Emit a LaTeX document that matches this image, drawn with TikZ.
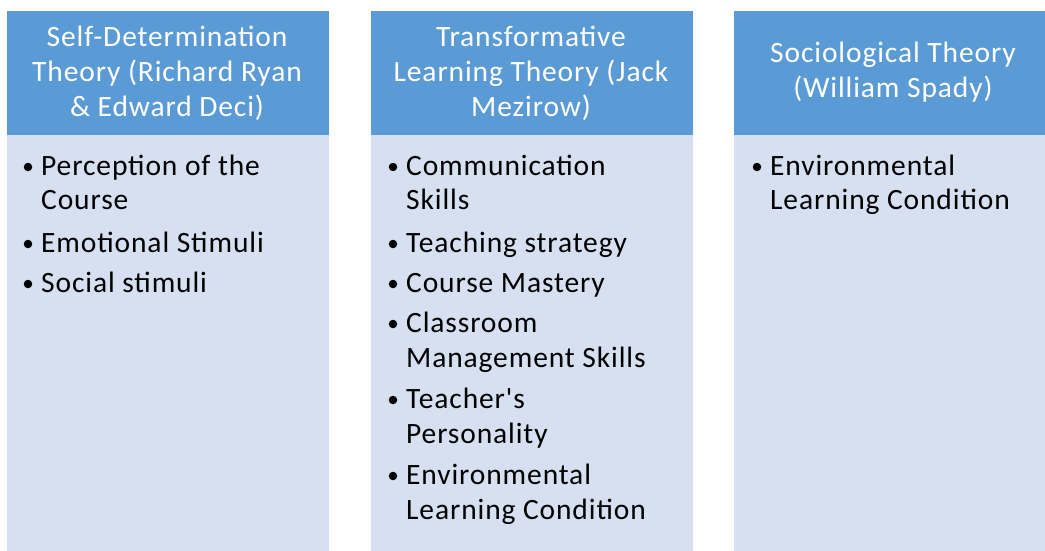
\documentclass[tikz,border=0pt]{standalone}
\usepackage{fontspec}
\setmainfont{Carlito}[LetterSpace=3]
\newfontfamily\nolig{Carlito}[LetterSpace=3]
\definecolor{hdrblue}{HTML}{5B9BD5}
\definecolor{bodyblue}{HTML}{D6E0F0}
\newcommand{\dfont}{\fontsize{29.5}{35}\selectfont}
\begin{document}
\begin{tikzpicture}[x=1pt,y=-1pt,
  hdrbox/.style={fill=hdrblue, draw=none, inner sep=0, anchor=north west, minimum height=124pt},
  bodybox/.style={fill=bodyblue, draw=none, inner sep=0, anchor=north west, minimum height=416pt},
  htext/.style={anchor=base, inner sep=0, text=white, font=\dfont},
  itemtext/.style={anchor=base west, inner sep=0, font=\dfont, text=black},
  bulletdot/.style={circle, fill=black, inner sep=0, minimum size=8.5pt}]
\useasboundingbox (0,0) rectangle (1045,551);
% column boxes
\node[hdrbox, minimum width=322pt] (h1) at (7,11) {};
\node[bodybox, minimum width=322pt] (b1) at (7,135) {};
\node[hdrbox, minimum width=322pt] (h2) at (371,11) {};
\node[bodybox, minimum width=322pt] (b2) at (371,135) {};
\node[hdrbox, minimum width=311pt] (h3) at (734,11) {};
\node[bodybox, minimum width=311pt] (b3) at (734,135) {};
% headers
\node[htext] (t1) at (167,47) {\begin{tabular}[t]{@{}c@{}}Self-Determination\\Theory (Richard Ryan\\\&~Edward Deci)\end{tabular}};
\node[htext] (t2) at (531,47) {\begin{tabular}[t]{@{}c@{}}Transformative\\Learning Theory (Jack\\Mezirow)\end{tabular}};
\node[htext] (t3) at (893,63) {\begin{tabular}[t]{@{}c@{}}Sociological Theory\\(William Spady)\end{tabular}};
% column 1 items
\node[bulletdot] (d11) at (28,167) {};
\node[itemtext] (i11) at (41,175) {\begin{tabular}[t]{@{}l@{}}Perception of the\\Course\end{tabular}};
\node[bulletdot] (d12) at (28,244) {};
\node[itemtext] (i12) at (41,252) {\begin{tabular}[t]{@{}l@{}}Emotional Stimuli\end{tabular}};
\node[bulletdot] (d13) at (28,284) {};
\node[itemtext] (i13) at (41,292) {\begin{tabular}[t]{@{}l@{}}Social stimuli\end{tabular}};
% column 2 items
\node[bulletdot] (d21) at (393,167) {};
\node[itemtext] (i21) at (406,175) {\begin{tabular}[t]{@{}l@{}}Communication\\Skills\end{tabular}};
\node[bulletdot] (d22) at (393,244) {};
\node[itemtext] (i22) at (406,252) {\begin{tabular}[t]{@{}l@{}}Teaching strategy\end{tabular}};
\node[bulletdot] (d23) at (393,284) {};
\node[itemtext] (i23) at (406,292) {\begin{tabular}[t]{@{}l@{}}Course Mastery\end{tabular}};
\node[bulletdot] (d24) at (393,324) {};
\node[itemtext] (i24) at (406,332) {\begin{tabular}[t]{@{}l@{}}Classroom\\Management Skills\end{tabular}};
\node[bulletdot] (d25) at (393,400) {};
\node[itemtext] (i25) at (406,408) {\begin{tabular}[t]{@{}l@{}}{\nolig Teacher's}\\Personality\end{tabular}};
\node[bulletdot] (d26) at (393,476) {};
\node[itemtext] (i26) at (406,484) {\begin{tabular}[t]{@{}l@{}}Environmental\\Learning Condition\end{tabular}};
% column 3 items
\node[bulletdot] (d31) at (757,167) {};
\node[itemtext] (i31) at (770,175) {\begin{tabular}[t]{@{}l@{}}Environmental\\Learning Condition\end{tabular}};
\end{tikzpicture}
\end{document}
